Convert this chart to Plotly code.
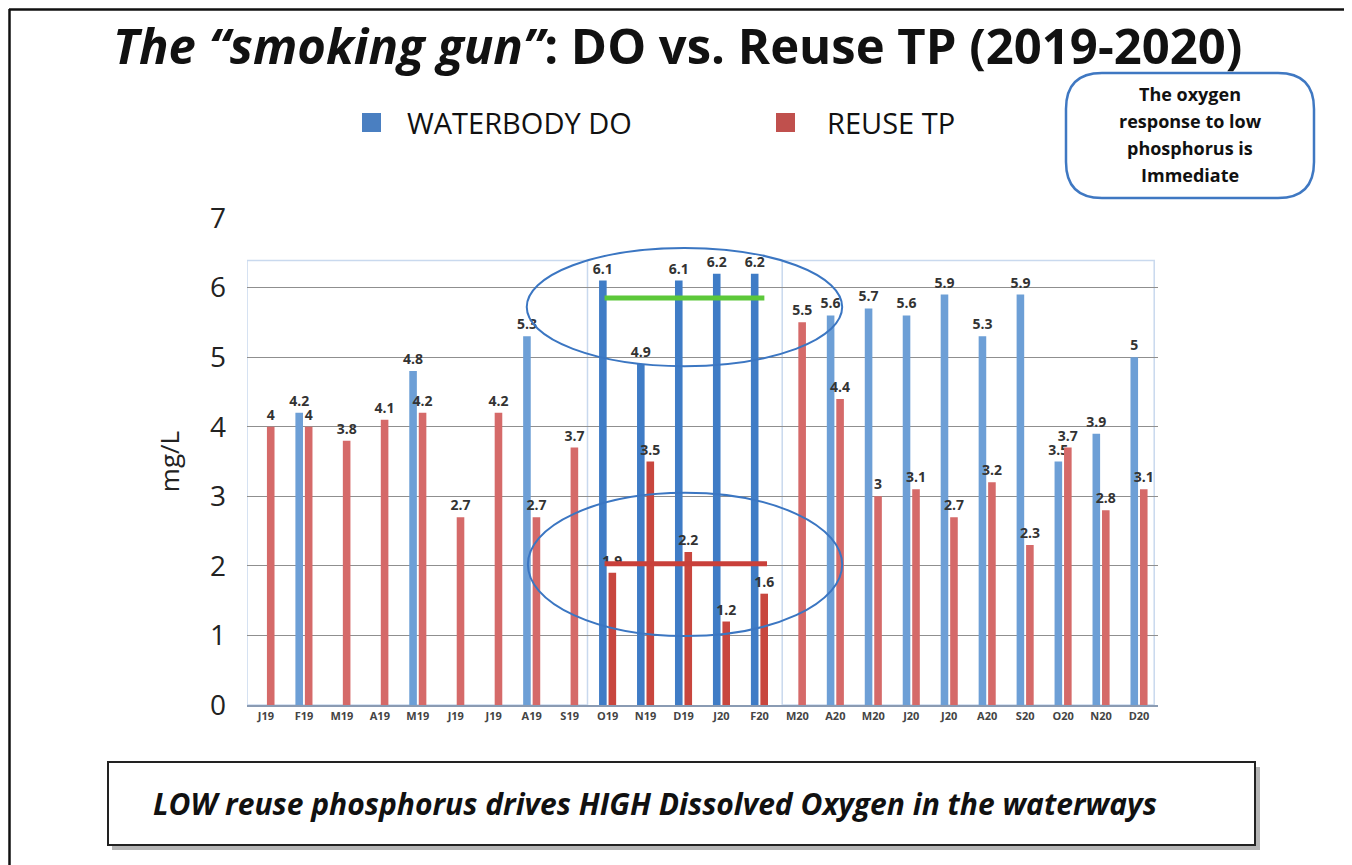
import plotly.graph_objects as go

months = ["J19", "F19", "M19", "A19", "M19", "J19", "J19", "A19", "S19", "O19", "N19", "D19",
          "J20", "F20", "M20", "A20", "M20", "J20", "J20", "A20", "S20", "O20", "N20", "D20"]
waterbody_do = [None, 4.2, None, None, 4.8, None, None, 5.3, None, 6.1, 4.9, 6.1,
                6.2, 6.2, None, 5.6, 5.7, 5.6, 5.9, 5.3, 5.9, 3.5, 3.9, 5]
reuse_tp = [4, 4, 3.8, 4.1, 4.2, 2.7, 4.2, 2.7, 3.7, 1.9, 3.5, 2.2,
            1.2, 1.6, 5.5, 4.4, 3, 3.1, 2.7, 3.2, 2.3, 3.7, 2.8, 3.1]
highlight = [False] * 9 + [True] * 5 + [False] * 10
y_ticks = [0, 1, 2, 3, 4, 5, 6, 7]

OFF = 8  # page body margin
W, H = 1352 - OFF, 865 - OFF
L, R, T, B = 247, 1158, 218, 705  # plot area in screen pixels


def px(x):
    return (x - L) / (R - L)


def py(y):
    return (B - y) / (B - T)


def fmt(v):
    return "" if v is None else f"{v:g}"


xs = list(range(len(months)))
blue_cols = ["#3f7cc6" if h else "#6d9fd6" for h in highlight]
red_cols = ["#c8463e" if h else "#d56a69" for h in highlight]
label_font = dict(family="Open Sans", size=14, color="#333333", weight="bold")

fig = go.Figure()
fig.add_trace(go.Bar(
    x=xs, y=waterbody_do, name="WATERBODY DO", marker=dict(color=blue_cols, line=dict(width=0)),
    text=[fmt(v) for v in waterbody_do], textposition="outside", constraintext="none",
    textfont=label_font, cliponaxis=False,
))
fig.add_trace(go.Bar(
    x=xs, y=reuse_tp, name="REUSE TP", marker=dict(color=red_cols, line=dict(width=0)),
    text=[fmt(v) for v in reuse_tp], textposition="outside", constraintext="none",
    textfont=label_font, cliponaxis=False,
))

shapes = []
# light blue panels
shapes.append(dict(type="rect", xref="x", yref="y", x0=-0.5, x1=8.47, y0=0, y1=6.39,
                   line=dict(color="#c9d9ee", width=1.5), layer="below"))
shapes.append(dict(type="rect", xref="x", yref="y", x0=13.6, x1=23.4, y0=0, y1=6.39,
                   line=dict(color="#c9d9ee", width=1.5), layer="below"))
# ellipses
shapes.append(dict(type="circle", xref="x", yref="y", x0=6.87, x1=15.18, y0=4.87, y1=6.57,
                   line=dict(color="#3b76c2", width=2)))
shapes.append(dict(type="circle", xref="x", yref="y", x0=6.9, x1=15.18, y0=0.99, y1=3.05,
                   line=dict(color="#3b76c2", width=2)))
# hand-drawn lines
shapes.append(dict(type="line", xref="x", yref="y", x0=8.92, x1=13.13, y0=5.85, y1=5.85,
                   line=dict(color="#5cc83a", width=5)))
shapes.append(dict(type="line", xref="x", yref="y", x0=8.92, x1=13.2, y0=2.03, y1=2.03,
                   line=dict(color="#c9403a", width=5)))
# outer frame (top, left, right edges)
frame = dict(color="#111111", width=2.5)
shapes.append(dict(type="line", xref="paper", yref="paper", x0=px(9), x1=px(1347), y0=py(9.5), y1=py(9.5), line=frame))
shapes.append(dict(type="line", xref="paper", yref="paper", x0=px(9.5), x1=px(9.5), y0=py(9), y1=py(865), line=frame))
shapes.append(dict(type="line", xref="paper", yref="paper", x0=px(1346), x1=px(1346), y0=py(9), y1=py(865), line=frame))
# bottom box shadow + box
shapes.append(dict(type="rect", xref="paper", yref="paper", x0=px(112), x1=px(1260), y0=py(850), y1=py(767),
                   line=dict(width=0), fillcolor="#b5b5b5"))
shapes.append(dict(type="rect", xref="paper", yref="paper", x0=px(108), x1=px(1255), y0=py(845), y1=py(762),
                   line=dict(color="#222222", width=2), fillcolor="white"))
# legend squares
shapes.append(dict(type="rect", xref="paper", yref="paper", x0=px(362), x1=px(381), y0=py(132), y1=py(113),
                   line=dict(width=0), fillcolor="#4a7fc1"))
shapes.append(dict(type="rect", xref="paper", yref="paper", x0=px(776), x1=px(795), y0=py(132), y1=py(113),
                   line=dict(width=0), fillcolor="#c0504d"))

# rounded callout box
bx0, bx1, by0, by1, r = 1066, 1314, 73, 198, 36
pts = [
    ("M", bx0 + r, by0), ("L", bx1 - r, by0), ("Q", bx1, by0, bx1, by0 + r),
    ("L", bx1, by1 - r), ("Q", bx1, by1, bx1 - r, by1), ("L", bx0 + r, by1),
    ("Q", bx0, by1, bx0, by1 - r), ("L", bx0, by0 + r), ("Q", bx0, by0, bx0 + r, by0),
]
path = ""
for p in pts:
    cmd = p[0]
    coords = p[1:]
    seg = cmd
    for i in range(0, len(coords), 2):
        seg += f" {px(coords[i]):.5f},{py(coords[i + 1]):.5f}"
    path += seg + " "
path += "Z"
shapes.append(dict(type="path", xref="paper", yref="paper", path=path,
                   line=dict(color="#3f78c2", width=2.5), fillcolor="white"))

annotations = [
    dict(x=px(677), y=py(45), xref="paper", yref="paper",
         text="<b><i>The “smoking gun”</i>: DO vs. Reuse TP (2019-2020)</b>",
         showarrow=False, xanchor="center", yanchor="middle",
         font=dict(family="Open Sans", size=49, color="#111111")),
    dict(x=px(405), y=py(123), xref="paper", yref="paper", text="WATERBODY DO",
         showarrow=False, xanchor="left", yanchor="middle",
         font=dict(family="Open Sans", size=29, color="#111111")),
    dict(x=px(825), y=py(123), xref="paper", yref="paper", text="REUSE TP",
         showarrow=False, xanchor="left", yanchor="middle",
         font=dict(family="Open Sans", size=29, color="#111111")),
    dict(x=px(655), y=py(803), xref="paper", yref="paper",
         text="<b><i>LOW reuse phosphorus drives HIGH Dissolved Oxygen in the waterways</i></b>",
         showarrow=False, xanchor="center", yanchor="middle",
         font=dict(family="Open Sans", size=30, color="#111111")),
]
for line, yy in zip(["The oxygen", "response to low", "phosphorus is", "Immediate"], [94, 121, 148, 175]):
    annotations.append(dict(x=px(1190), y=py(yy), xref="paper", yref="paper", text=f"<b>{line}</b>",
                            showarrow=False, xanchor="center", yanchor="middle",
                            font=dict(family="Open Sans", size=18, color="#111111")))

fig.update_layout(
    width=W, height=H,
    margin=dict(l=L - OFF, r=W - (R - OFF), t=T - OFF, b=H - (B - OFF), autoexpand=False),
    paper_bgcolor="white", plot_bgcolor="white",
    barmode="group", bargap=0.5, bargroupgap=0.2,
    showlegend=False,
    shapes=shapes, annotations=annotations,
    xaxis=dict(range=[-0.5, 23.5], tickmode="array", tickvals=xs, ticktext=[f"<b>{m}</b>" for m in months],
               tickfont=dict(family="Open Sans", size=11, color="#444444"), showgrid=False,
               showline=True, linecolor="#8a9bb3", linewidth=1.5, ticks="", fixedrange=True),
    yaxis=dict(range=[0, 7], tickmode="array", tickvals=y_ticks, ticktext=[str(v) for v in y_ticks],
               tickfont=dict(family="Open Sans", size=28, color="#222222"), showgrid=True,
               gridcolor="#8f8f8f", gridwidth=1, zeroline=False, showline=False, ticks="", ticklen=0,
               ticklabelstandoff=20,
               title=dict(text="mg/L", font=dict(family="Open Sans", size=26, color="#222222"), standoff=22)),
)

fig.write_html("out.html")
